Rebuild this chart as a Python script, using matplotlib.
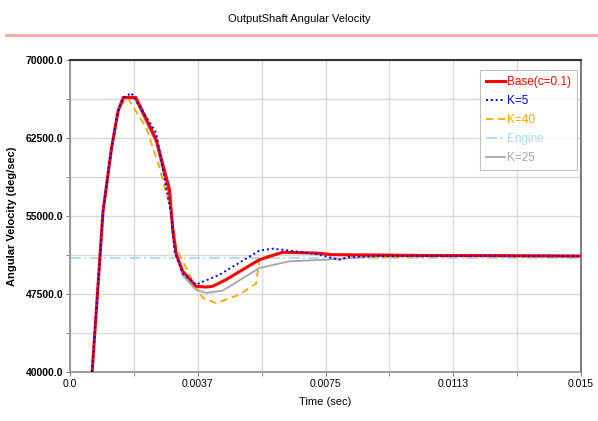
import matplotlib
matplotlib.use("Agg")
import matplotlib.pyplot as plt
from matplotlib.lines import Line2D

plt.rcParams['font.family'] = ['Liberation Sans Narrow', 'Liberation Sans', 'DejaVu Sans']

title = "OutputShaft Angular Velocity"
xlabel = "Time (sec)"
ylabel = "Angular Velocity (deg/sec)"
xticks = [0.0, 0.00375, 0.0075, 0.01125, 0.015]
xticklabels = ["0.0", "0.0037", "0.0075", "0.0113", "0.015"]
yticks = [40000, 47500, 55000, 62500, 70000]
yticklabels = ["40000.0", "47500.0", "55000.0", "62500.0", "70000.0"]

base_t = [0.00065, 0.00097, 0.00122, 0.00141, 0.00156, 0.00193, 0.00253, 0.00292, 0.00302, 0.00312,
          0.00331, 0.0037, 0.0040, 0.00419, 0.00458, 0.00556, 0.00624, 0.00721, 0.0077, 0.009, 0.0105, 0.012, 0.015]
base_v = [40000, 55480, 61540, 65070, 66400, 66400, 62340, 57530, 53530, 51280,
          49680, 48240, 48170, 48240, 48880, 50800, 51510, 51440, 51280, 51250, 51200, 51200, 51150]

k5_t = [0.00065, 0.00097, 0.00122, 0.00141, 0.00158, 0.0018, 0.00253, 0.00297, 0.00307, 0.0033,
        0.0037, 0.00439, 0.00556, 0.00594, 0.00624, 0.00721, 0.0079, 0.0082, 0.009, 0.011, 0.015]
k5_v = [40000, 55480, 61540, 65070, 66400, 66830, 62980, 55130, 51600, 49500,
        48400, 49360, 51670, 51860, 51760, 51350, 50800, 51060, 51150, 51150, 51150]

k40_t = [0.00065, 0.00097, 0.00122, 0.00141, 0.00166, 0.00224, 0.00263, 0.00297, 0.00312, 0.0036,
         0.0039, 0.00429, 0.00497, 0.00527, 0.00546, 0.00556, 0.00604, 0.00653, 0.0075, 0.00916, 0.011, 0.015]
k40_v = [40000, 55480, 61540, 65070, 66510, 63460, 59620, 55450, 51920, 48720,
         47120, 46630, 47430, 48100, 48500, 50800, 51440, 51540, 51300, 51030, 51100, 51100]

engine_t = [0.0, 0.015]
engine_v = [51000, 51000]

k25_t = [0.00065, 0.00097, 0.00122, 0.00141, 0.00156, 0.0019, 0.00253, 0.00292, 0.00312, 0.0033,
         0.0037, 0.0040, 0.00448, 0.00556, 0.00643, 0.0075, 0.009, 0.011, 0.015]
k25_v = [40000, 55480, 61540, 65070, 66400, 66300, 62020, 56730, 51600, 49300,
         47900, 47600, 47820, 50000, 50640, 50800, 51100, 51150, 51100]

fig = plt.figure(figsize=(5.98, 4.21), dpi=100)
ax = fig.add_axes([70/598, 1-372/421, (581-70)/598, (372-60)/421])

l_eng, = ax.plot(engine_t, engine_v, color='#a9d9f2', lw=1.3, ls=(0, (6, 2, 1, 2)), label='Engine', zorder=2)
l_k25, = ax.plot(k25_t, k25_v, color='#a6a6a6', lw=1.3, label='K=25', zorder=3)
l_k40, = ax.plot(k40_t, k40_v, color='#ffa500', lw=1.3, ls=(0, (4, 2.5)), label='K=40', zorder=4)
l_base, = ax.plot(base_t, base_v, color='#ff0000', lw=2.2, label='Base(c=0.1)', zorder=5)
l_k5, = ax.plot(k5_t, k5_v, color='#0000ff', lw=1.4, ls=(0, (1, 1.5)), label='K=5', zorder=6)

ax.set_xlim(0, 0.015)
ax.set_ylim(40000, 70000)
ax.set_xticks(xticks)
ax.set_xticklabels(xticklabels, fontsize=7.5)
ax.set_xticks([0.001875 * i for i in range(1, 8, 2)], minor=True)
ax.set_yticks(yticks)
ax.set_yticklabels(yticklabels, fontsize=7.5, fontweight='bold')
ax.set_yticks([43750, 51250, 58750, 66250], minor=True)
ax.grid(True, which='both', color='#d9d9d9', lw=1.0)
ax.set_axisbelow(True)
ax.tick_params(which='both', direction='out', length=3, color='#808080', pad=2)

for side in ['left', 'bottom']:
    ax.spines[side].set_color('#8c8c8c')
    ax.spines[side].set_linewidth(1.2)
ax.spines['top'].set_color('#333333')
ax.spines['top'].set_linewidth(1.5)
ax.spines['right'].set_color('#666666')
ax.spines['right'].set_linewidth(1.2)

ax.set_xlabel(xlabel, fontsize=8, labelpad=6)
ax.set_ylabel(ylabel, fontsize=8, fontweight='bold', labelpad=6)

handles = [l_base, l_k5, l_k40, l_eng, l_k25]
leg = ax.legend(handles=handles, loc='upper right', bbox_to_anchor=(0.992, 0.968),
                fontsize=8.5, frameon=True, fancybox=False, edgecolor='#b0b0b0',
                handlelength=1.6, handletextpad=0.15, borderpad=0.5, labelspacing=0.6,
                borderaxespad=0.0)
for txt, h in zip(leg.get_texts(), handles):
    txt.set_color(h.get_color())
leg.get_frame().set_linewidth(0.8)

fig.text(0.5, 1-19/421, title, ha='center', va='center', fontsize=8)
fig.add_artist(Line2D([6/598, 1.0], [1-35/421, 1-35/421], color='#f6a5a5', lw=2.0))

fig.savefig('out.png', dpi=100)
